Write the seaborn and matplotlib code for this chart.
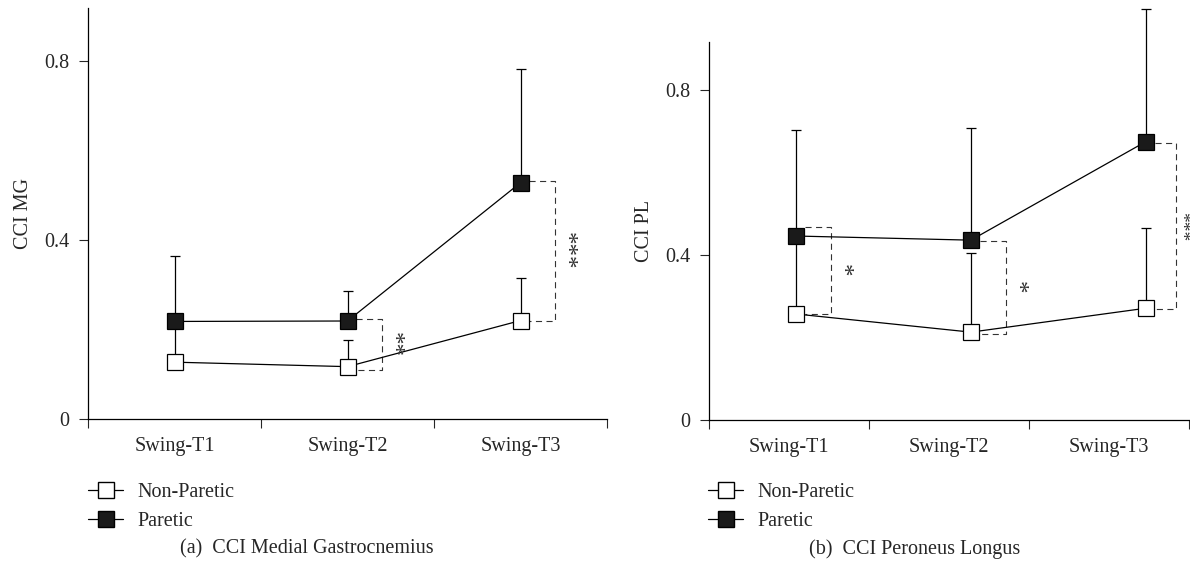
import numpy as np
import pandas as pd
import seaborn as sns
import matplotlib.pyplot as plt
from matplotlib.lines import Line2D

# data
phases = ["Swing-T1", "Swing-T2", "Swing-T3"]

mg_paretic = [0.218, 0.219, 0.528]
mg_paretic_sd = [0.146, 0.066, 0.255]
mg_nonparetic = [0.127, 0.117, 0.220]
mg_nonparetic_sd = [0.093, 0.060, 0.096]

pl_paretic = [0.446, 0.436, 0.675]
pl_paretic_sd = [0.257, 0.273, 0.321]
pl_nonparetic = [0.257, 0.213, 0.271]
pl_nonparetic_sd = [0.183, 0.191, 0.194]

# significance brackets: phase index, low, high, label
mg_sig = [(1, 0.109, 0.223, "**"), (2, 0.220, 0.532, "***")]
pl_sig = [(0, 0.256, 0.469, "*"), (1, 0.208, 0.435, "*"), (2, 0.268, 0.672, "***")]

sns.set_style("ticks")
plt.rcParams["font.family"] = ["Liberation Serif", "DejaVu Serif"]
FS = 14.5

W, H = 1190, 569
fig = plt.figure(figsize=(W / 100, H / 100), dpi=100)


def panel(rect, paretic, p_sd, nonparetic, n_sd, sig, ylab, ylim_top, spine_top, xlim, caption, cap_x, leg_x):
    ax = fig.add_axes(rect)
    x = np.arange(len(phases))
    df = pd.DataFrame({"x": np.concatenate([x, x]),
                       "cci": nonparetic + paretic,
                       "group": ["Non-Paretic"] * 3 + ["Paretic"] * 3})

    ax.errorbar(x, nonparetic, yerr=[np.zeros(3), n_sd], fmt="none", ecolor="black",
                elinewidth=0.9, capsize=3.8, capthick=0.9, zorder=1)
    ax.errorbar(x, paretic, yerr=[np.zeros(3), p_sd], fmt="none", ecolor="black",
                elinewidth=0.9, capsize=3.8, capthick=0.9, zorder=1)

    sns.lineplot(data=df[df.group == "Non-Paretic"], x="x", y="cci", ax=ax, color="black",
                 lw=0.9, marker="s", markersize=11.5, markerfacecolor="white",
                 markeredgecolor="black", markeredgewidth=0.9, zorder=3)
    sns.lineplot(data=df[df.group == "Paretic"], x="x", y="cci", ax=ax, color="black",
                 lw=0.9, marker="s", markersize=11.5, markerfacecolor="#1a1a1a",
                 markeredgecolor="black", markeredgewidth=0.9, zorder=3)

    for i, lo, hi, lab in sig:
        at_edge = i + 0.35 > xlim[1]
        x0, x1 = i + 0.05, i + (0.17 if at_edge else 0.2)
        ax.plot([x0, x1, x1, x0], [hi, hi, lo, lo], color="#333333", lw=0.8,
                linestyle=(0, (5.5, 4)), zorder=2)
        if at_edge:
            # squeeze the label against the right border of the figure
            ax.annotate(lab, xy=(xlim[1], (lo + hi) / 2), rotation=270, ha="right",
                        va="center", fontsize=14, color="#333333")
        else:
            ax.annotate(lab, xy=(x1, (lo + hi) / 2), xytext=(7, 0), textcoords="offset points",
                        rotation=270, ha="center", va="center", fontsize=18, color="#333333")

    ax.set_xlim(*xlim)
    ax.set_ylim(0, ylim_top)
    edges = np.linspace(xlim[0], xlim[1], 4)
    ax.set_xticks(edges)
    ax.set_xticklabels([])
    ax.set_xticks((edges[:-1] + edges[1:]) / 2, minor=True)
    ax.set_xticklabels(phases, minor=True)
    ax.tick_params(axis="x", which="major", length=6.5, width=0.8, direction="out")
    ax.tick_params(axis="x", which="minor", length=0, pad=13, labelsize=FS)
    ax.set_yticks([0, 0.4, 0.8])
    ax.set_yticklabels(["0", "0.4", "0.8"])
    ax.tick_params(axis="y", length=6.5, width=0.8, pad=7, labelsize=FS)

    sns.despine(ax=ax)
    ax.spines["left"].set_bounds(0, spine_top)
    for s in ["left", "bottom"]:
        ax.spines[s].set_linewidth(0.9)
        ax.spines[s].set_color("black")
    ax.set_xlabel("")
    ax.set_ylabel(ylab, fontsize=FS, labelpad=8, y=spine_top / 2 / ylim_top)

    handles = [Line2D([], [], color="black", lw=0.9, marker="s", markersize=11.5,
                      markerfacecolor="white", markeredgecolor="black"),
               Line2D([], [], color="black", lw=0.9, marker="s", markersize=11.5,
                      markerfacecolor="#1a1a1a", markeredgecolor="black")]
    fig.legend(handles, ["Non-Paretic", "Paretic"], loc="upper left",
               bbox_to_anchor=(leg_x / W, 1 - 483 / H), frameon=False, borderpad=0,
               borderaxespad=0, handlelength=1.75, handletextpad=0.7, labelspacing=0.5,
               fontsize=FS)
    fig.text(cap_x / W, 1 - 549 / H, caption, ha="center", va="center", fontsize=FS)
    return ax


panel([88 / W, 1 - 419 / H, (607 - 88) / W, 0.92 / 0.4 * 179 / H],
      mg_paretic, mg_paretic_sd, mg_nonparetic, mg_nonparetic_sd, mg_sig,
      "CCI MG", 0.92, 0.918, (-0.5, 2.5), "(a)  CCI Medial Gastrocnemius", 307, 88)

panel([709 / W, 1 - 420 / H, 480 / W, 1.0 / 0.4 * 165 / H],
      pl_paretic, pl_paretic_sd, pl_nonparetic, pl_nonparetic_sd, pl_sig,
      "CCI PL", 1.0, 0.916, (-0.497, 2.246), "(b)  CCI Peroneus Longus", 915, 708)

fig.savefig("out.png", dpi=100)
